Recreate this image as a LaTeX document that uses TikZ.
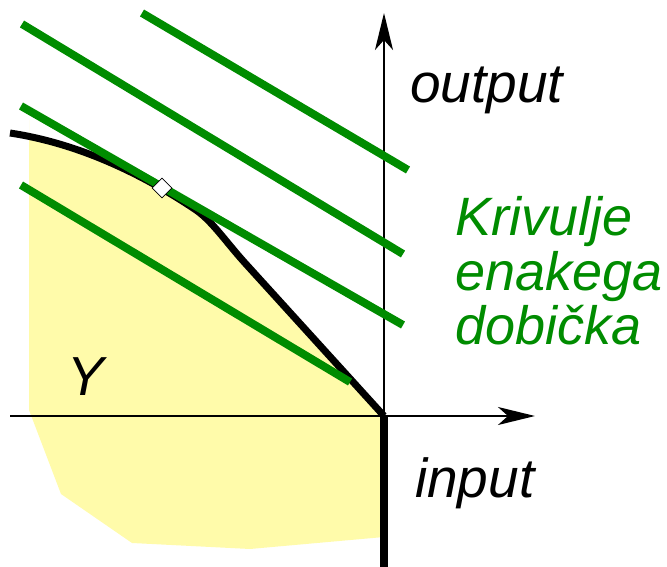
\documentclass[tikz,border=0pt]{standalone}
\usepackage{fontspec}
\newfontfamily\lsans{Liberation Sans}
\usetikzlibrary{arrows.meta,shapes.geometric}
\definecolor{fillyel}{RGB}{255,251,170}
\definecolor{prgreen}{RGB}{0,140,0}
\tikzset{
  axisline/.style={line width=2.2pt,-{Stealth[length=37pt,width=18pt,inset=10pt]}},
  isoline/.style={prgreen,line width=8pt},
  frontier/.style={black,line width=7pt,line join=round},
  lbl/.style={anchor=base west,inner sep=0pt,font=\lsans\itshape\fontsize{55}{60}\selectfont},
  glbl/.style={anchor=base west,inner sep=0pt,text=prgreen,font=\lsans\itshape\fontsize{54}{56}\selectfont}
}
\begin{document}
\begin{tikzpicture}[x=1pt,y=-1pt]
\useasboundingbox (0,0) rectangle (667,567);
% named points
\coordinate (O) at (384,416);
\coordinate (xs) at (10,416);
\coordinate (xe) at (535,416);
\coordinate (ye) at (384,13);
\coordinate (yb) at (384,567);
\coordinate (c0) at (10,133);
\coordinate (c1) at (196,210);
\coordinate (c2) at (245,263);
% production set
\begin{scope}
\clip (29,0) rectangle (667,567);
\fill[fillyel] (c0) .. controls (71.7,142.3) and (135,169) .. (c1)
  .. controls (212,221) and (226,242) .. (c2) -- (O)
  -- (384,537) -- (250,549) -- (132,543) -- (61,494) -- (29,410) -- (29,120) -- cycle;
\end{scope}
% axes
\draw[axisline] (xs) -- (xe);
\draw[axisline] (O) -- (ye);
% frontier
\draw[frontier] (c0) .. controls (71.7,142.3) and (135,169) .. (c1)
  .. controls (212,221) and (226,242) .. (c2) -- (O);
\draw[black,line width=8pt] (O) -- (yb);
% isoprofit lines
\coordinate (a0) at (142,13);  \coordinate (a1) at (408,170);
\coordinate (b0) at (22,24);   \coordinate (b1) at (403,254);
\coordinate (d0) at (21,106);  \coordinate (d1) at (403,325);
\coordinate (e0) at (21,185);  \coordinate (e1) at (350,382);
\draw[isoline] (a0) -- (a1);
\draw[isoline] (b0) -- (b1);
\draw[isoline] (d0) -- (d1);
\draw[isoline] (e0) -- (e1);
% optimum
\node[diamond,draw=black,fill=white,line width=0.8pt,minimum width=20pt,minimum height=20pt,inner sep=0pt] (opt) at (162,188) {};
% labels
\node[lbl] (out) at (410,103) {output};
\node[lbl] (inp) at (415,497) {input};
\node[lbl] (Y) at (67,395) {Y};
\node[glbl] (k1) at (455,235) {Krivulje};
\node[glbl] (k2) at (455,290) {enakega};
\node[glbl] (k3) at (455,344) {dobička};
\end{tikzpicture}
\end{document}
